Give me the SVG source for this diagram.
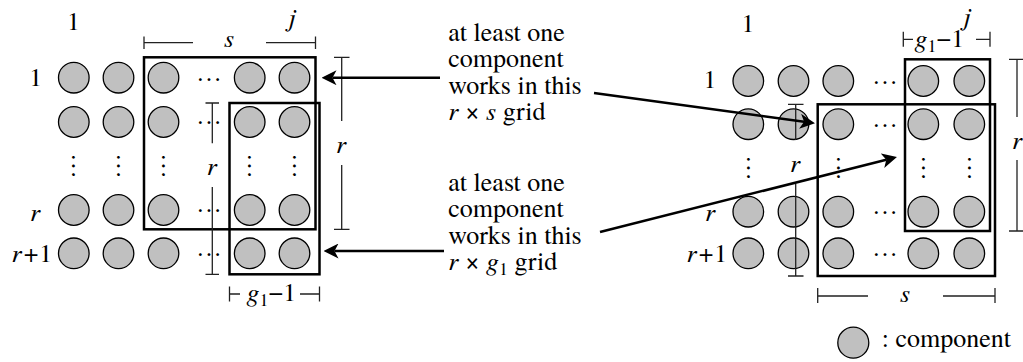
<svg xmlns="http://www.w3.org/2000/svg" width="1023" height="362" viewBox="0 0 1023 362">
<style>
text{font-family:"Nimbus Roman","TeX Gyre Termes",FreeSerif,serif;font-size:26px;fill:#000}
.i{font-style:italic}
.m{text-anchor:middle}
.c{fill:#c0c0c0;stroke:#000;stroke-width:1.3}
.box{fill:none;stroke:#000;stroke-width:2.5}
.dim{fill:none;stroke:#222;stroke-width:1.3}
.arr{fill:none;stroke:#000;stroke-width:2.5}
.sub{font-size:18px}
</style>
<defs>
<marker id="ah" markerUnits="userSpaceOnUse" markerWidth="15" markerHeight="15" viewBox="0 0 15 15" refX="4" refY="7.5" orient="auto">
<path d="M15,7.5 L0,0 L4,7.5 L0,15 Z" fill="#000"/>
</marker>
</defs>

<g id="left-grid">
<g id="left-circles">
<circle class="c" cx="73.8" cy="77.7" r="15.3"/><circle class="c" cx="118.5" cy="77.7" r="15.3"/><circle class="c" cx="163.5" cy="77.7" r="15.3"/><circle class="c" cx="249.7" cy="77.7" r="15.3"/><circle class="c" cx="294.5" cy="77.7" r="15.3"/>
<circle class="c" cx="73.8" cy="122" r="15.3"/><circle class="c" cx="118.5" cy="122" r="15.3"/><circle class="c" cx="163.5" cy="122" r="15.3"/><circle class="c" cx="249.7" cy="122" r="15.3"/><circle class="c" cx="294.5" cy="122" r="15.3"/>
<circle class="c" cx="73.8" cy="210" r="15.3"/><circle class="c" cx="118.5" cy="210" r="15.3"/><circle class="c" cx="163.5" cy="210" r="15.3"/><circle class="c" cx="249.7" cy="210" r="15.3"/><circle class="c" cx="294.5" cy="210" r="15.3"/>
<circle class="c" cx="73.8" cy="253.3" r="15.3"/><circle class="c" cx="118.5" cy="253.3" r="15.3"/><circle class="c" cx="163.5" cy="253.3" r="15.3"/><circle class="c" cx="249.7" cy="253.3" r="15.3"/><circle class="c" cx="294.5" cy="253.3" r="15.3"/>
</g>
<g id="left-dots">
<text class="m" x="209" y="81">…</text><text class="m" x="209" y="124">…</text><text class="m" x="209" y="212">…</text><text class="m" x="209" y="255.5">…</text>
<text class="m" x="73.8" y="167.5" transform="rotate(90 73.8 166)">…</text>
<text class="m" x="118.5" y="167.5" transform="rotate(90 118.5 166)">…</text>
<text class="m" x="163.5" y="167.5" transform="rotate(90 163.5 166)">…</text>
<text class="m" x="249.7" y="167.5" transform="rotate(90 249.7 166)">…</text>
<text class="m" x="294.5" y="167.5" transform="rotate(90 294.5 166)">…</text>
</g>
<g id="left-labels">
<text class="m" x="73.5" y="29.5">1</text>
<text class="m i" x="292" y="26">j</text>
<text class="m" x="35.8" y="86">1</text>
<text class="m i" x="35" y="221">r</text>
<text x="11.5" y="261.7"><tspan class="i">r</tspan><tspan dx="2">+</tspan><tspan dx="1">1</tspan></text>
</g>
<rect id="left-rs-box" class="box" x="144" y="57.3" width="171.5" height="172"/>
<rect id="left-rg-box" class="box" x="229.5" y="103" width="90" height="171.3"/>
<g id="left-dims">
<path class="dim" d="M144,42.7H193M266,42.7H315.5M144,36.5V49M315.5,36.5V49"/>
<text class="m i" x="229" y="46.7">s</text>
<path class="dim" d="M341.7,57.3V121M341.7,165V229.3M334,57.3H349.5M334,229.3H349.5"/>
<text class="m i" x="341" y="153">r</text>
<path class="dim" d="M212.3,103V143.3M212.3,187V274.3M205.5,103H219M205.5,274.3H219"/>
<text class="m i" x="211.7" y="175">r</text>
<path class="dim" d="M229.5,286.5V301.5M229.5,294H240M300,294H319.5M319.5,286.5V301.5"/>
<text x="246.5" y="301"><tspan class="i">g</tspan><tspan class="sub" dy="5">1</tspan><tspan dy="-5">−1</tspan></text>
</g>
</g>

<g id="note-rs">
<text x="448.3" y="40.7">at least one</text>
<text x="448.3" y="67.2">component</text>
<text x="448.3" y="93.7">works in this</text>
<text x="448.3" y="120.2"><tspan class="i">r</tspan> × <tspan class="i">s</tspan> grid</text>
</g>
<g id="note-rg">
<text x="448.3" y="190.7">at least one</text>
<text x="448.3" y="217.2">component</text>
<text x="448.3" y="243.7">works in this</text>
<text x="448.3" y="270.2"><tspan class="i">r</tspan> × <tspan class="i">g</tspan><tspan class="sub" dy="5">1</tspan><tspan dy="-5"> grid</tspan></text>
</g>

<g id="right-grid">
<g id="right-circles">
<circle class="c" cx="748.3" cy="81" r="15.3"/><circle class="c" cx="793.5" cy="81" r="15.3"/><circle class="c" cx="838.3" cy="81" r="15.3"/><circle class="c" cx="923.3" cy="81" r="15.3"/><circle class="c" cx="969.3" cy="81" r="15.3"/>
<circle class="c" cx="748.3" cy="124.2" r="15.3"/><circle class="c" cx="793.5" cy="124.2" r="15.3"/><circle class="c" cx="838.3" cy="124.2" r="15.3"/><circle class="c" cx="923.3" cy="124.2" r="15.3"/><circle class="c" cx="969.3" cy="124.2" r="15.3"/>
<circle class="c" cx="748.3" cy="211.7" r="15.3"/><circle class="c" cx="793.5" cy="211.7" r="15.3"/><circle class="c" cx="838.3" cy="211.7" r="15.3"/><circle class="c" cx="923.3" cy="211.7" r="15.3"/><circle class="c" cx="969.3" cy="211.7" r="15.3"/>
<circle class="c" cx="748.3" cy="253.3" r="15.3"/><circle class="c" cx="793.5" cy="253.3" r="15.3"/><circle class="c" cx="838.3" cy="253.3" r="15.3"/><circle class="c" cx="923.3" cy="253.3" r="15.3"/><circle class="c" cx="969.3" cy="253.3" r="15.3"/>
</g>
<g id="right-dots">
<text class="m" x="885" y="84">…</text><text class="m" x="885" y="127">…</text><text class="m" x="885" y="214">…</text><text class="m" x="885" y="256">…</text>
<text class="m" x="748.3" y="169.5" transform="rotate(90 748.3 168)">…</text>
<text class="m" x="838.3" y="169.5" transform="rotate(90 838.3 168)">…</text>
<text class="m" x="923.3" y="169.5" transform="rotate(90 923.3 168)">…</text>
<text class="m" x="969.3" y="169.5" transform="rotate(90 969.3 168)">…</text>
</g>
<g id="right-labels">
<text class="m" x="748" y="31.7">1</text>
<text class="m i" x="967" y="24.5">j</text>
<text class="m" x="710" y="88">1</text>
<text class="m i" x="710" y="221">r</text>
<text x="686.5" y="261.7"><tspan class="i">r</tspan><tspan dx="2">+</tspan><tspan dx="1">1</tspan></text>
</g>
<rect id="right-rg-box" class="box" x="905" y="59.3" width="85" height="171.7"/>
<rect id="right-rs-box" class="box" x="817.7" y="104.3" width="177.3" height="171.7"/>
<g id="right-dims">
<path class="dim" d="M903.3,31.7V46.7M903.3,39.3H913M976,39.3H990M990,31.7V46.7"/>
<text x="914.5" y="46.7"><tspan class="i">g</tspan><tspan class="sub" dy="5">1</tspan><tspan dy="-5">−1</tspan></text>
<path class="dim" d="M1017,59.3V117M1017,160V231M1009,59.3H1025M1009,231H1025"/>
<text class="m i" x="1017" y="149">r</text>
<path class="dim" d="M795.7,104.3V140M795.7,184V276M788,104.3H803.5M788,276H803.5"/>
<text class="m i" x="795" y="172">r</text>
<path class="dim" d="M817.7,288V303M817.7,296H868M943,296H995M995,288V303"/>
<text class="m i" x="905" y="301.7">s</text>
</g>
</g>

<g id="connectors">
<line class="arr" x1="440" y1="77.7" x2="332.5" y2="77.7" marker-end="url(#ah)"/>
<line class="arr" x1="444" y1="251" x2="334.5" y2="251" marker-end="url(#ah)"/>
<line class="arr" x1="594" y1="93" x2="804.1" y2="121.8" marker-end="url(#ah)"/>
<line class="arr" x1="600" y1="232" x2="886.3" y2="159.7" marker-end="url(#ah)"/>
</g>

<g id="legend">
<circle class="c" cx="853.3" cy="342.7" r="15.5"/>
<text x="881.7" y="347.3">: component</text>
</g>
</svg>
